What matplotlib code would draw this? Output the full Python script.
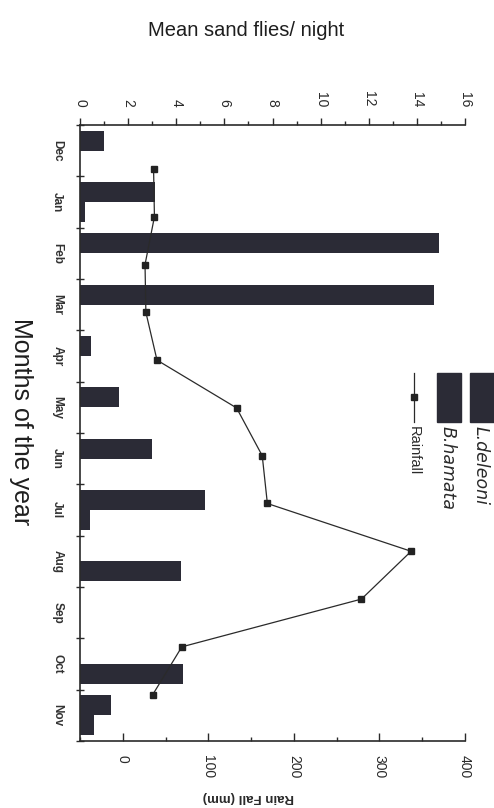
import numpy as np
import matplotlib
matplotlib.use('Agg')
import matplotlib.pyplot as plt
from matplotlib.patches import Rectangle
from matplotlib.lines import Line2D
from matplotlib.ticker import MultipleLocator

plt.rcParams['font.family'] = ['Liberation Sans', 'DejaVu Sans']

months = ['Dec', 'Jan', 'Feb', 'Mar', 'Apr', 'May', 'Jun', 'Jul', 'Aug', 'Sep', 'Oct', 'Nov']
l_deleoni = [1.0, 3.1, 14.9, 14.7, 0.45, 1.6, 3.0, 5.2, 0.0, 0.0, 0.0, 1.3]
b_hamata = [0.0, 0.2, 0.0, 0.0, 0.0, 0.0, 0.0, 0.4, 4.2, 0.0, 4.3, 0.6]
rainfall = [36, 37, 26, 27, 40, 133, 163, 169, 337, 279, 69, 35]

bar_color = '#2b2b36'
ink = '#2a2a2a'

W, H = 494, 808
fig = plt.figure(figsize=(W / 100, H / 100), dpi=100, facecolor='white')

def fx(px):
    return px / W

def fy(py):
    return 1 - py / H

rect = [fx(80), fy(741), fx(465) - fx(80), fy(125) - fy(741)]

# bars: sand flies on the top axis, months running downwards
ax = fig.add_axes(rect)
y = np.arange(len(months))
w = 0.39
ax.barh(y - w / 2, l_deleoni, height=w, color=bar_color, label='L.deleoni')
ax.barh(y + w / 2, b_hamata, height=w, color=bar_color, label='B.hamata')
ax.set_xlim(0, 16)
ax.set_ylim(len(months) - 0.5, -0.5)

ax.xaxis.tick_top()
ax.set_xticks(range(0, 17, 2))
ax.set_xticklabels([str(v) for v in range(0, 17, 2)], rotation=-90, fontsize=10, color=ink)
ax.xaxis.set_minor_locator(MultipleLocator(1))
ax.tick_params(axis='x', which='major', direction='out', length=5, width=1, pad=8, colors=ink)
ax.tick_params(axis='x', which='minor', direction='out', length=3, width=1, colors=ink)

ax.set_yticks(y)
ax.set_yticklabels(months, rotation=-90, fontsize=8.5, fontweight='bold', color='#333333',
                   va='center')
ax.yaxis.set_minor_locator(MultipleLocator(1, offset=0.5))
ax.tick_params(axis='y', which='major', length=0, pad=12)
ax.tick_params(axis='y', which='minor', direction='inout', length=6, width=1, colors=ink)

for s in ['right', 'bottom']:
    ax.spines[s].set_visible(False)
for s in ['top', 'left']:
    ax.spines[s].set_color(ink)
    ax.spines[s].set_linewidth(1.2)

# rainfall line on its own axes, bottom axis
ax2 = fig.add_axes(rect)
ax2.patch.set_visible(False)
ax2.plot(rainfall, np.arange(len(months)), color=ink, lw=0.9, marker='s',
         markersize=5, markerfacecolor='#222222', markeredgecolor='#222222')
ax2.set_xlim(-50, 400)
ax2.set_ylim(11.97, -0.92)
ax2.set_yticks([])
ax2.set_xticks(range(0, 401, 100))
ax2.set_xticklabels([str(v) for v in range(0, 401, 100)], rotation=-90, fontsize=10, color=ink)
ax2.xaxis.set_minor_locator(MultipleLocator(50))
ax2.tick_params(axis='x', which='major', direction='in', length=6, width=1, pad=10, colors=ink)
ax2.tick_params(axis='x', which='minor', direction='in', length=3, width=1, colors=ink)
for s in ['top', 'left', 'right']:
    ax2.spines[s].set_visible(False)
ax2.spines['bottom'].set_color(ink)
ax2.spines['bottom'].set_linewidth(1.2)

# axis titles
fig.text(fx(246), fy(30), 'Mean sand flies/ night', fontsize=14.5, color='#1e1e1e',
         ha='center', va='center')
fig.text(fx(21), fy(422), 'Months of the year', fontsize=18, color='#1e1e1e',
         rotation=-90, ha='center', va='center')
fig.text(fx(248), fy(797), 'Rain Fall (mm)', fontsize=9.5, fontweight='bold', color=ink,
         rotation=180, ha='center', va='center')

# legend, drawn rotated like the rest of the chart
fig.add_artist(Rectangle((fx(470), fy(422)), fx(494) - fx(470), fy(373) - fy(422),
                         transform=fig.transFigure, color=bar_color))
fig.add_artist(Rectangle((fx(437), fy(422)), fx(461) - fx(437), fy(373) - fy(422),
                         transform=fig.transFigure, color=bar_color))
fig.add_artist(Line2D([fx(414), fx(414)], [fy(373), fy(422)], transform=fig.transFigure,
                      color=ink, lw=0.9))
fig.add_artist(Line2D([fx(414)], [fy(397)], transform=fig.transFigure, marker='s',
                      markersize=5, color='#222222'))
fig.text(fx(481), fy(426), 'L.deleoni', fontsize=12.5, style='italic', color=ink,
         family='DejaVu Sans', rotation=-90, ha='center', va='top')
fig.text(fx(448), fy(426), 'B.hamata', fontsize=12.5, style='italic', color=ink,
         family='DejaVu Sans', rotation=-90, ha='center', va='top')
fig.text(fx(414), fy(426), 'Rainfall', fontsize=10.5, color=ink,
         rotation=-90, ha='center', va='top')

fig.savefig('out.png', dpi=100, facecolor='white')
